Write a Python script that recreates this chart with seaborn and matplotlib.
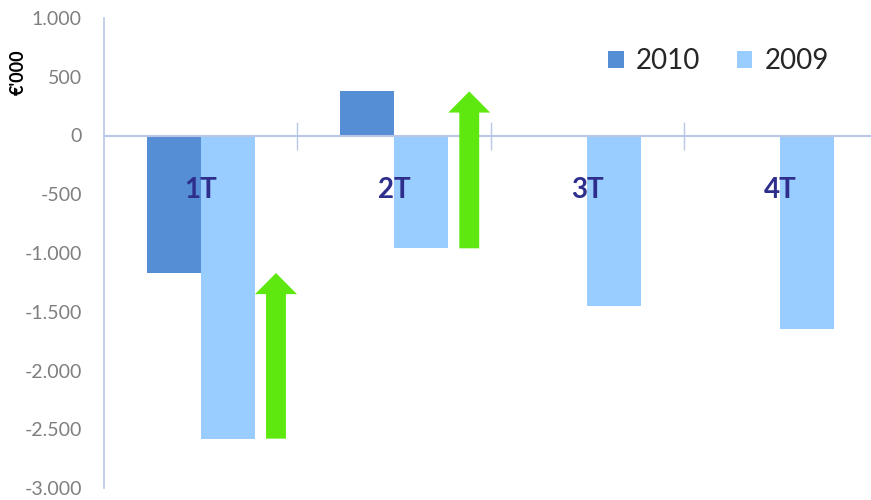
import pandas as pd
import matplotlib.pyplot as plt
import seaborn as sns
from matplotlib.ticker import FuncFormatter, FixedLocator

# Data (values in €'000)
categories = ["1T", "2T", "3T", "4T"]
years = ["2010", "2009"]
values_2010 = [-1170, 375, 0, 0]
values_2009 = [-2580, -960, -1450, -1650]
y_ticks = [-3000, -2500, -2000, -1500, -1000, -500, 0, 500, 1000]

# Styling
COLORS = {"2010": "#558ED5", "2009": "#99CCFF"}
ARROW_COLOR = "#5EE80F"
AXIS_COLOR = "#B9C7E6"
LABEL_COLOR = "#2E2E8C"
TICK_COLOR = "#7F7F7F"

df = pd.DataFrame(
    {
        "quarter": categories * 2,
        "year": [years[0]] * len(categories) + [years[1]] * len(categories),
        "value": values_2010 + values_2009,
    }
)

sns.set_style("white")
plt.rcParams["font.family"] = ["Lato", "DejaVu Sans"]

fig = plt.figure(figsize=(8.71, 5.0), dpi=100)
ax = fig.add_axes([0.1194, 0.024, 0.8875, 0.94])

sns.barplot(
    data=df,
    x="quarter",
    y="value",
    hue="year",
    order=categories,
    hue_order=years,
    palette=COLORS,
    width=0.56,
    saturation=1,
    linewidth=0,
    ax=ax,
)
for bar in ax.patches:
    bar.set_zorder(0.8)

# green arrows: from 2009 level up to 2010 level
for i, (v10, v09) in enumerate(zip(values_2010, values_2009)):
    if v10 == 0:
        continue
    ax.arrow(
        i + 0.39, v09, 0, v10 - v09,
        width=0.103, head_width=0.217, head_length=180,
        length_includes_head=True, color=ARROW_COLOR, linewidth=0, zorder=3,
    )

ax.set_axisbelow(False)
ax.set_ylim(-3000, 1000)
ax.set_xlim(-0.5, 3.5)
ax.set_yticks(y_ticks)
ax.yaxis.set_major_formatter(FuncFormatter(lambda v, _: f"{v:,.0f}".replace(",", ".")))

for side in ["top", "right"]:
    ax.spines[side].set_visible(False)
ax.spines["bottom"].set_position(("data", 0))
ax.spines["bottom"].set_color(AXIS_COLOR)
ax.spines["bottom"].set_linewidth(1.5)
ax.spines["left"].set_color(AXIS_COLOR)
ax.spines["left"].set_linewidth(1.2)

# separators between quarters, crossing the zero line
ax.xaxis.set_minor_locator(FixedLocator([0.5, 1.5, 2.5]))
ax.tick_params(axis="x", which="minor", bottom=True, direction="inout",
               length=20, width=1, color=AXIS_COLOR)
ax.tick_params(axis="x", which="major", bottom=False, length=0, pad=30,
               labelsize=20, labelcolor=LABEL_COLOR)
for lbl in ax.get_xticklabels():
    lbl.set_fontweight("bold")
ax.tick_params(axis="y", length=0, pad=16, labelsize=14, labelcolor=TICK_COLOR)

ax.set_xlabel("")
ax.set_ylabel("€'000", fontsize=13, fontweight="bold", color="black")
ax.yaxis.set_label_coords(-0.10, 0.885)

ax.legend(
    loc="center",
    bbox_to_anchor=(0.825, 0.878),
    bbox_transform=fig.transFigure,
    ncol=2,
    frameon=False,
    fontsize=20,
    handlelength=0.55,
    handleheight=0.55,
    handletextpad=0.45,
    columnspacing=1.3,
    title=None,
)

fig.savefig("out.png", dpi=100)
